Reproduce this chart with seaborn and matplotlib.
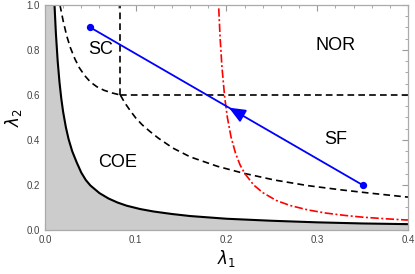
import numpy as np
import pandas as pd
import seaborn as sns
import matplotlib.pyplot as plt
from matplotlib.ticker import MultipleLocator

# Curvas (lambda_1, lambda_2)
solida_x = [0.0105, 0.012, 0.014, 0.016, 0.018, 0.020, 0.023, 0.026, 0.030, 0.035,
            0.040, 0.045, 0.050, 0.060, 0.070, 0.080, 0.090, 0.105, 0.12, 0.14,
            0.16, 0.18, 0.2, 0.25, 0.3, 0.35, 0.4]
solida_y = [1.0, 0.875, 0.75, 0.656, 0.583, 0.525, 0.457, 0.404, 0.35, 0.30,
            0.255, 0.222, 0.198, 0.164, 0.140, 0.122, 0.108, 0.093, 0.082, 0.071,
            0.062, 0.056, 0.05, 0.041, 0.034, 0.029, 0.026]

trac_a_x = [0.0165, 0.020, 0.024, 0.028, 0.033, 0.038, 0.044, 0.050, 0.057, 0.065,
            0.074, 0.083]
trac_a_y = [1.0, 0.93, 0.862, 0.81, 0.76, 0.72, 0.685, 0.658, 0.637, 0.621,
            0.609, 0.6]

trac_b_x = [0.083, 0.088, 0.094, 0.100, 0.107, 0.115, 0.125, 0.141, 0.16, 0.19,
            0.218, 0.253, 0.29, 0.327, 0.36, 0.4]
trac_b_y = [0.6, 0.565, 0.53, 0.498, 0.468, 0.44, 0.408, 0.364, 0.325, 0.283,
            0.253, 0.222, 0.197, 0.178, 0.163, 0.146]

vermelha_x = [0.1915, 0.193, 0.195, 0.198, 0.201, 0.205, 0.210, 0.215, 0.220,
              0.230, 0.240, 0.255, 0.270, 0.290, 0.310, 0.330, 0.350, 0.375, 0.4]
vermelha_y = [0.985, 0.854, 0.726, 0.592, 0.50, 0.414, 0.341, 0.289, 0.252,
              0.20, 0.166, 0.131, 0.109, 0.089, 0.075, 0.065, 0.057, 0.05, 0.044]

# Fronteiras retas (tracejadas)
lam1_c = 0.083
lam2_c = 0.6

# Trajetória azul
azul_x = [0.05, 0.35]
azul_y = [0.9, 0.2]

# Rótulos das fases
fases = ['SC', 'NOR', 'COE', 'SF']
fases_x = [0.061, 0.32, 0.08, 0.32]
fases_y = [0.80, 0.82, 0.30, 0.40]

sns.set_style('ticks')
plt.rcParams['font.family'] = ['Liberation Sans', 'DejaVu Sans']
plt.rcParams['mathtext.fontset'] = 'dejavusans'
plt.rcParams['text.color'] = 'black'
plt.rcParams['axes.labelcolor'] = 'black'

fig = plt.figure(figsize=(4.15, 2.74), dpi=100)
ax = fig.add_axes([0.1084, 0.1606, 0.8746, 0.8212])

# Região cinza (abaixo da curva sólida)
ax.fill_between([0.0] + solida_x, 0, [solida_y[0]] + solida_y, color='#cccccc', lw=0)

tracejado = (0, (4, 2.5))
sns.lineplot(x=solida_x, y=solida_y, ax=ax, color='black', lw=1.5, sort=False)
sns.lineplot(x=trac_a_x, y=trac_a_y, ax=ax, color='black', lw=1.2,
             sort=False, linestyle=tracejado)
sns.lineplot(x=trac_b_x, y=trac_b_y, ax=ax, color='black', lw=1.2,
             sort=False, linestyle=tracejado)
ax.plot([lam1_c, lam1_c], [lam2_c, 1.0], color='black', lw=1.2, linestyle=tracejado)
ax.plot([lam1_c, 0.4], [lam2_c, lam2_c], color='black', lw=1.2, linestyle=tracejado)
sns.lineplot(x=vermelha_x, y=vermelha_y, ax=ax, color='red', lw=1.2,
             sort=False, linestyle=(0, (5, 1.5, 1.2, 1.5)))

# Trajetória com seta no meio
sns.lineplot(x=azul_x, y=azul_y, ax=ax, color='#0000ff', lw=1.3, sort=False)
ax.scatter(azul_x, azul_y, color='#0000ff', s=18, zorder=5)
meio_x = (azul_x[0] + azul_x[1]) / 2
meio_y = (azul_y[0] + azul_y[1]) / 2
dx = (azul_x[0] - azul_x[1]) * 0.07
dy = (azul_y[0] - azul_y[1]) * 0.07
ax.annotate('', xy=(meio_x, meio_y), xytext=(meio_x - dx, meio_y - dy),
            arrowprops=dict(arrowstyle='-|>,head_length=1.0,head_width=0.42',
                            color='#0000ff', lw=1.3))

for nome, x, y in zip(fases, fases_x, fases_y):
    ax.text(x, y, nome, fontsize=13, ha='center', va='center', color='black')

ax.set_xlim(0, 0.4)
ax.set_ylim(0, 1.0)
ax.xaxis.set_major_locator(MultipleLocator(0.1))
ax.xaxis.set_minor_locator(MultipleLocator(0.02))
ax.yaxis.set_major_locator(MultipleLocator(0.2))
ax.yaxis.set_minor_locator(MultipleLocator(0.05))
ax.xaxis.set_major_formatter(plt.FuncFormatter(lambda v, p: f'{v:.1f}'))
ax.yaxis.set_major_formatter(plt.FuncFormatter(lambda v, p: f'{v:.1f}'))
ax.tick_params(which='both', direction='in', top=True, right=True,
               color='#999999', labelsize=7, labelcolor='#444444')
ax.tick_params(which='major', length=4, width=0.8)
ax.tick_params(which='minor', length=2, width=0.6)
for s in ax.spines.values():
    s.set_color('#aaaaaa')
    s.set_linewidth(0.9)

ax.set_xlabel(r'$\lambda_1$', fontsize=12, labelpad=2)
ax.set_ylabel(r'$\lambda_2$', fontsize=12, labelpad=2)

fig.savefig('out.png', dpi=100)
